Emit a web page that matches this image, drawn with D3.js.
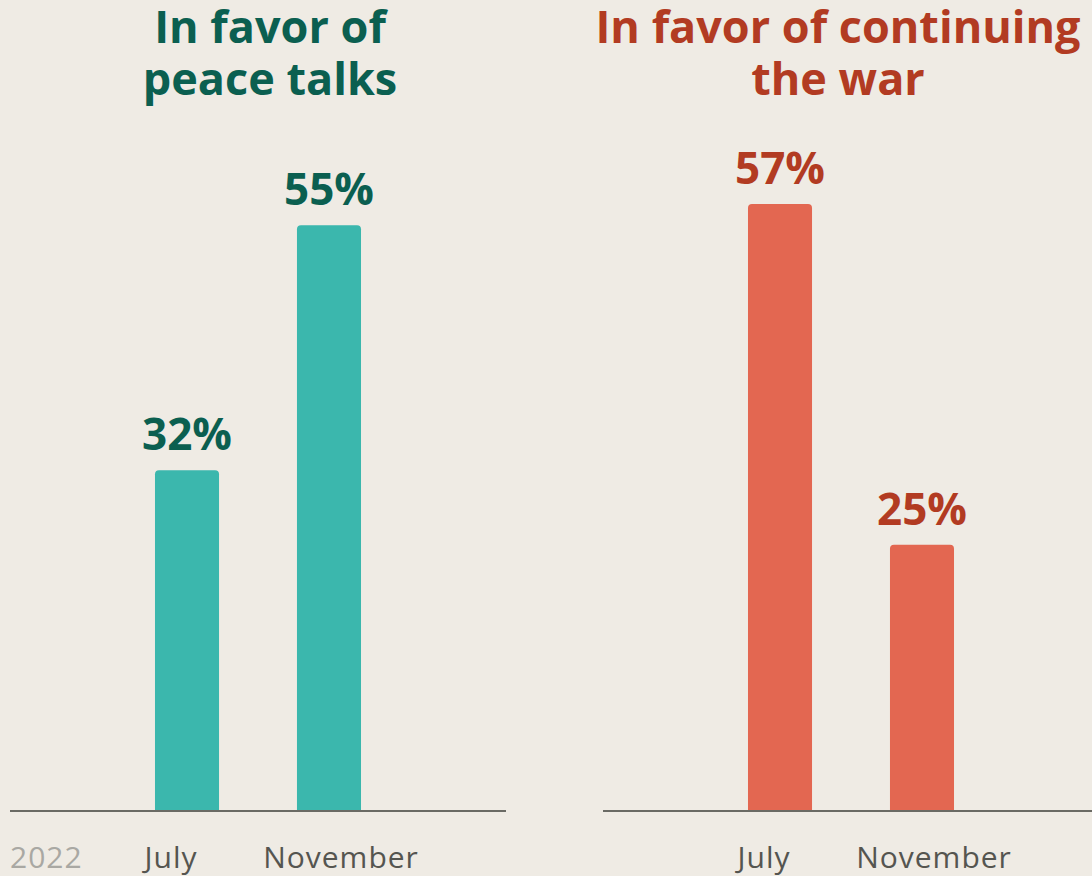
<!DOCTYPE html>
<html>
<head>
<meta charset="utf-8">
<script src="https://cdn.jsdelivr.net/npm/d3@7"></script>
<style>
  html, body { margin: 0; padding: 0; background: #efebe4; }
  svg { display: block; }
  text { font-family: "Open Sans", Lato, sans-serif; }
</style>
</head>
<body>
<svg id="chart" width="1092" height="876"></svg>
<script>
// ---- data ----
const months = ["July", "November"];
const peaceTalks = [32, 55];
const continueWar = [57, 25];
const titlesPeace = ["In favor of", "peace talks"];
const titlesWar = ["In favor of continuing", "the war"];
const yearLabel = "2022";

// ---- layout ----
const W = 1092, H = 876;
const baseline = 811;
const pxPerPct = 10.65;
const svg = d3.select("#chart");

const y = d3.scaleLinear().domain([0, 100]).range([baseline, baseline - 100 * pxPerPct]);
const x = d3.scaleBand().domain(months).range([84, 432]).paddingInner(0.549).paddingOuter(0.5);

const panels = [
  { values: peaceTalks, title: titlesPeace, tx: 270, offset: 0,
    bar: "#3bb7ad", label: "#0b5f50", titleColor: "#0b5f50" },
  { values: continueWar, title: titlesWar, tx: 245, offset: 593,
    bar: "#e36751", label: "#b23b22", titleColor: "#b23b22" }
];

const tickDx = { "July": -16, "November": 12 };

function topRoundedBar(x0, y0, w, h, r) {
  r = Math.min(r, h);
  return `M${x0},${y0 + h}V${y0 + r}Q${x0},${y0} ${x0 + r},${y0}H${x0 + w - r}Q${x0 + w},${y0} ${x0 + w},${y0 + r}V${y0 + h}Z`;
}

panels.forEach((p, pi) => {
  const g = svg.append("g").attr("transform", `translate(${p.offset},0)`);

  // title
  const t = g.append("text")
    .attr("text-anchor", "middle")
    .attr("fill", p.titleColor)
    .style("font-size", "45px").style("font-weight", 700);
  p.title.forEach((line, i) => {
    t.append("tspan").attr("x", p.tx).attr("y", 43 + i * 52).text(line);
  });

  const data = months.map((m, i) => ({ m, v: p.values[i] }));

  // bars
  g.selectAll("path.bar").data(data).join("path")
    .attr("class", "bar")
    .attr("fill", p.bar)
    .attr("d", d => topRoundedBar(x(d.m), y(d.v), x.bandwidth(), baseline - y(d.v), 4));

  // value labels
  g.selectAll("text.val").data(data).join("text")
    .attr("class", "val")
    .attr("x", d => x(d.m) + x.bandwidth() / 2)
    .attr("y", d => y(d.v) - 20)
    .attr("text-anchor", "middle")
    .attr("fill", p.label)
    .style("font-size", "44px").style("font-weight", 700)
    .text(d => d.v + "%");

  // axis
  const axis = d3.axisBottom(x).tickSize(0).tickPadding(0);
  const ag = g.append("g").attr("transform", `translate(0,${baseline})`).call(axis);
  ag.select(".domain").remove();
  ag.append("line").attr("x1", 10).attr("x2", 506).attr("y1", 0).attr("y2", 0)
    .attr("stroke", "#6a6a64").attr("stroke-width", 2);
  ag.selectAll(".tick text")
    .attr("y", 57).attr("dy", 0)
    .attr("dx", d => tickDx[d])
    .attr("fill", "#555550")
    .style("font-size", "30px").style("font-family", "'Open Sans', sans-serif").style("font-weight", 400)
    .style("letter-spacing", "1px");

  if (pi === 0) {
    g.append("text").attr("x", 10).attr("y", 868)
      .attr("fill", "#a9a8a3")
      .style("font-size", "30px")
      .style("letter-spacing", "1px")
      .text(yearLabel);
  }
});
</script>
</body>
</html>
